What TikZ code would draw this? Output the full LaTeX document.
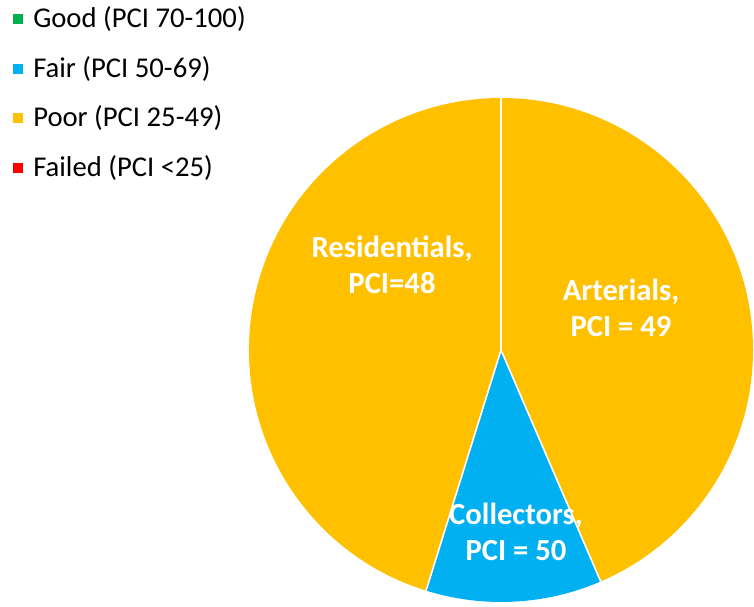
\documentclass[tikz,border=0pt]{standalone}
\usepackage{fontspec}
\setmainfont{Carlito}
\usetikzlibrary{calc}
\definecolor{pcigood}{RGB}{0,176,80}
\definecolor{pcifair}{RGB}{0,176,240}
\definecolor{pcipoor}{RGB}{255,192,0}
\definecolor{pcifailed}{RGB}{255,0,0}

\begin{document}
\begin{tikzpicture}[x=0.75pt, y=0.75pt,
        slicelabel/.style={text=white, align=center, inner sep=0pt,
            font=\bfseries\fontsize{23}{27.5}\selectfont},
        legendtext/.style={anchor=west, inner sep=0pt,
            font=\fontsize{21.5}{24}\selectfont}]
        \useasboundingbox (0,0) rectangle (754,607);

        % Pie
        \coordinate (pie) at (501,257);
        \def\rad{252}
        \fill[pcipoor] (pie) -- ++(90:\rad) arc[start angle=90, end angle=-66.7, radius=\rad] -- cycle;
        \fill[pcifair] (pie) -- ++(-66.7:\rad) arc[start angle=-66.7, end angle=-107.3, radius=\rad] -- cycle;
        \fill[pcipoor] (pie) -- ++(-107.3:\rad) arc[start angle=-107.3, end angle=-270, radius=\rad] -- cycle;

        % Slice borders
        \coordinate (top) at ($(pie) + (90:\rad)$);
        \coordinate (right) at ($(pie) + (-66.7:\rad)$);
        \coordinate (left) at ($(pie) + (-107.3:\rad)$);
        \draw[white, line width=1.2pt] (top) -- (pie);
        \draw[white, line width=1.2pt] (right) -- (pie) -- (left);

        % Slice labels
        \node[slicelabel] (residentials) at (392,342) {Residentials,\\PCI=48};
        \node[slicelabel] (arterials) at (621,299) {Arterials,\\PCI = 49};
        \node[slicelabel] (collectors) at (516,75) {Collectors,\\PCI = 50};

        % Legend
        \foreach \col/\txt [count=\i] in {pcigood/{Good (PCI 70-100)}, pcifair/{Fair (PCI 50-69)},
                pcipoor/{Poor (PCI 25-49)}, pcifailed/{Failed (PCI <25)}} {
            \fill[\col] (12.5,{588-49.7*(\i-1)-5}) rectangle ++(10,10);
            \node[legendtext] (legend\i) at (33,{588-49.7*(\i-1)}) {\txt};
        }
    \end{tikzpicture}
\end{document}
